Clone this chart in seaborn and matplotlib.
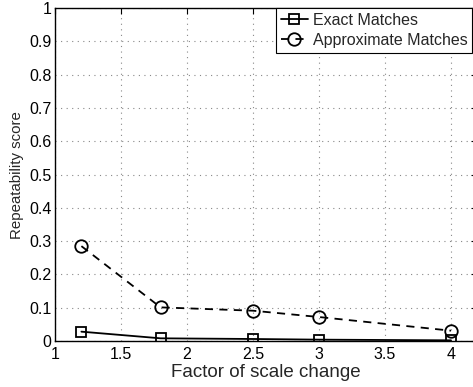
import matplotlib
matplotlib.use("Agg")
import matplotlib.pyplot as plt
import seaborn as sns
import pandas as pd

scale_factors = [1.2, 1.8, 2.5, 3.0, 4.0]
exact_matches = [0.028, 0.008, 0.006, 0.004, 0.002]
approx_matches = [0.285, 0.101, 0.091, 0.072, 0.031]
x_ticks = [1, 1.5, 2, 2.5, 3, 3.5, 4]
y_ticks = [0, 0.1, 0.2, 0.3, 0.4, 0.5, 0.6, 0.7, 0.8, 0.9, 1]

sns.set_theme(style="white")
plt.rcParams['font.family'] = ['Liberation Sans', 'DejaVu Sans']

fig = plt.figure(figsize=(4.73, 3.87), dpi=100)
ax = fig.add_axes([0.1163, 0.1189, 0.893, 0.860])

df = pd.DataFrame({
    "x": scale_factors * 2,
    "y": exact_matches + approx_matches,
    "series": ["Exact Matches"] * 5 + ["Approximate Matches"] * 5,
})

sns.lineplot(data=df[df.series == "Exact Matches"], x="x", y="y", ax=ax,
             color="black", lw=1.3, marker="s", markersize=7,
             markerfacecolor="none", markeredgecolor="black", markeredgewidth=1.3,
             label="Exact Matches", estimator=None)
sns.lineplot(data=df[df.series == "Approximate Matches"], x="x", y="y", ax=ax,
             color="black", lw=1.3, linestyle=(0, (4.5, 3.5)), marker="o", markersize=9,
             markerfacecolor="none", markeredgecolor="black", markeredgewidth=1.3,
             label="Approximate Matches", estimator=None)

ax.set_xlim(1, 4.2)
ax.set_ylim(0, 1)
ax.set_xticks(x_ticks)
ax.set_xticklabels([f"{t:g}" for t in x_ticks])
ax.set_yticks(y_ticks)
ax.set_yticklabels([f"{t:g}" for t in y_ticks])
ax.grid(True, linestyle=(0, (1, 4)), color="#888888", linewidth=0.8)
ax.tick_params(direction="in", length=4, width=0.8, labelsize=11.5, colors="black",
               top=True, right=True, pad=2.5)
ax.tick_params(axis="x", pad=4)
for s in ax.spines.values():
    s.set_color("black")
    s.set_linewidth(1.0)

ax.set_xlabel("Factor of scale change", fontsize=13.5, labelpad=2)
ax.set_ylabel("Repeatability score", fontsize=10.8, labelpad=4)

leg = ax.legend(loc="upper right", bbox_to_anchor=(0.988, 1.0), fontsize=11.5,
                frameon=True, fancybox=False, edgecolor="black", framealpha=1,
                handlelength=1.7, handletextpad=0.3, borderpad=0.3,
                labelspacing=0.3, borderaxespad=0)
leg.get_frame().set_linewidth(0.8)

fig.savefig("out.png", dpi=100)
